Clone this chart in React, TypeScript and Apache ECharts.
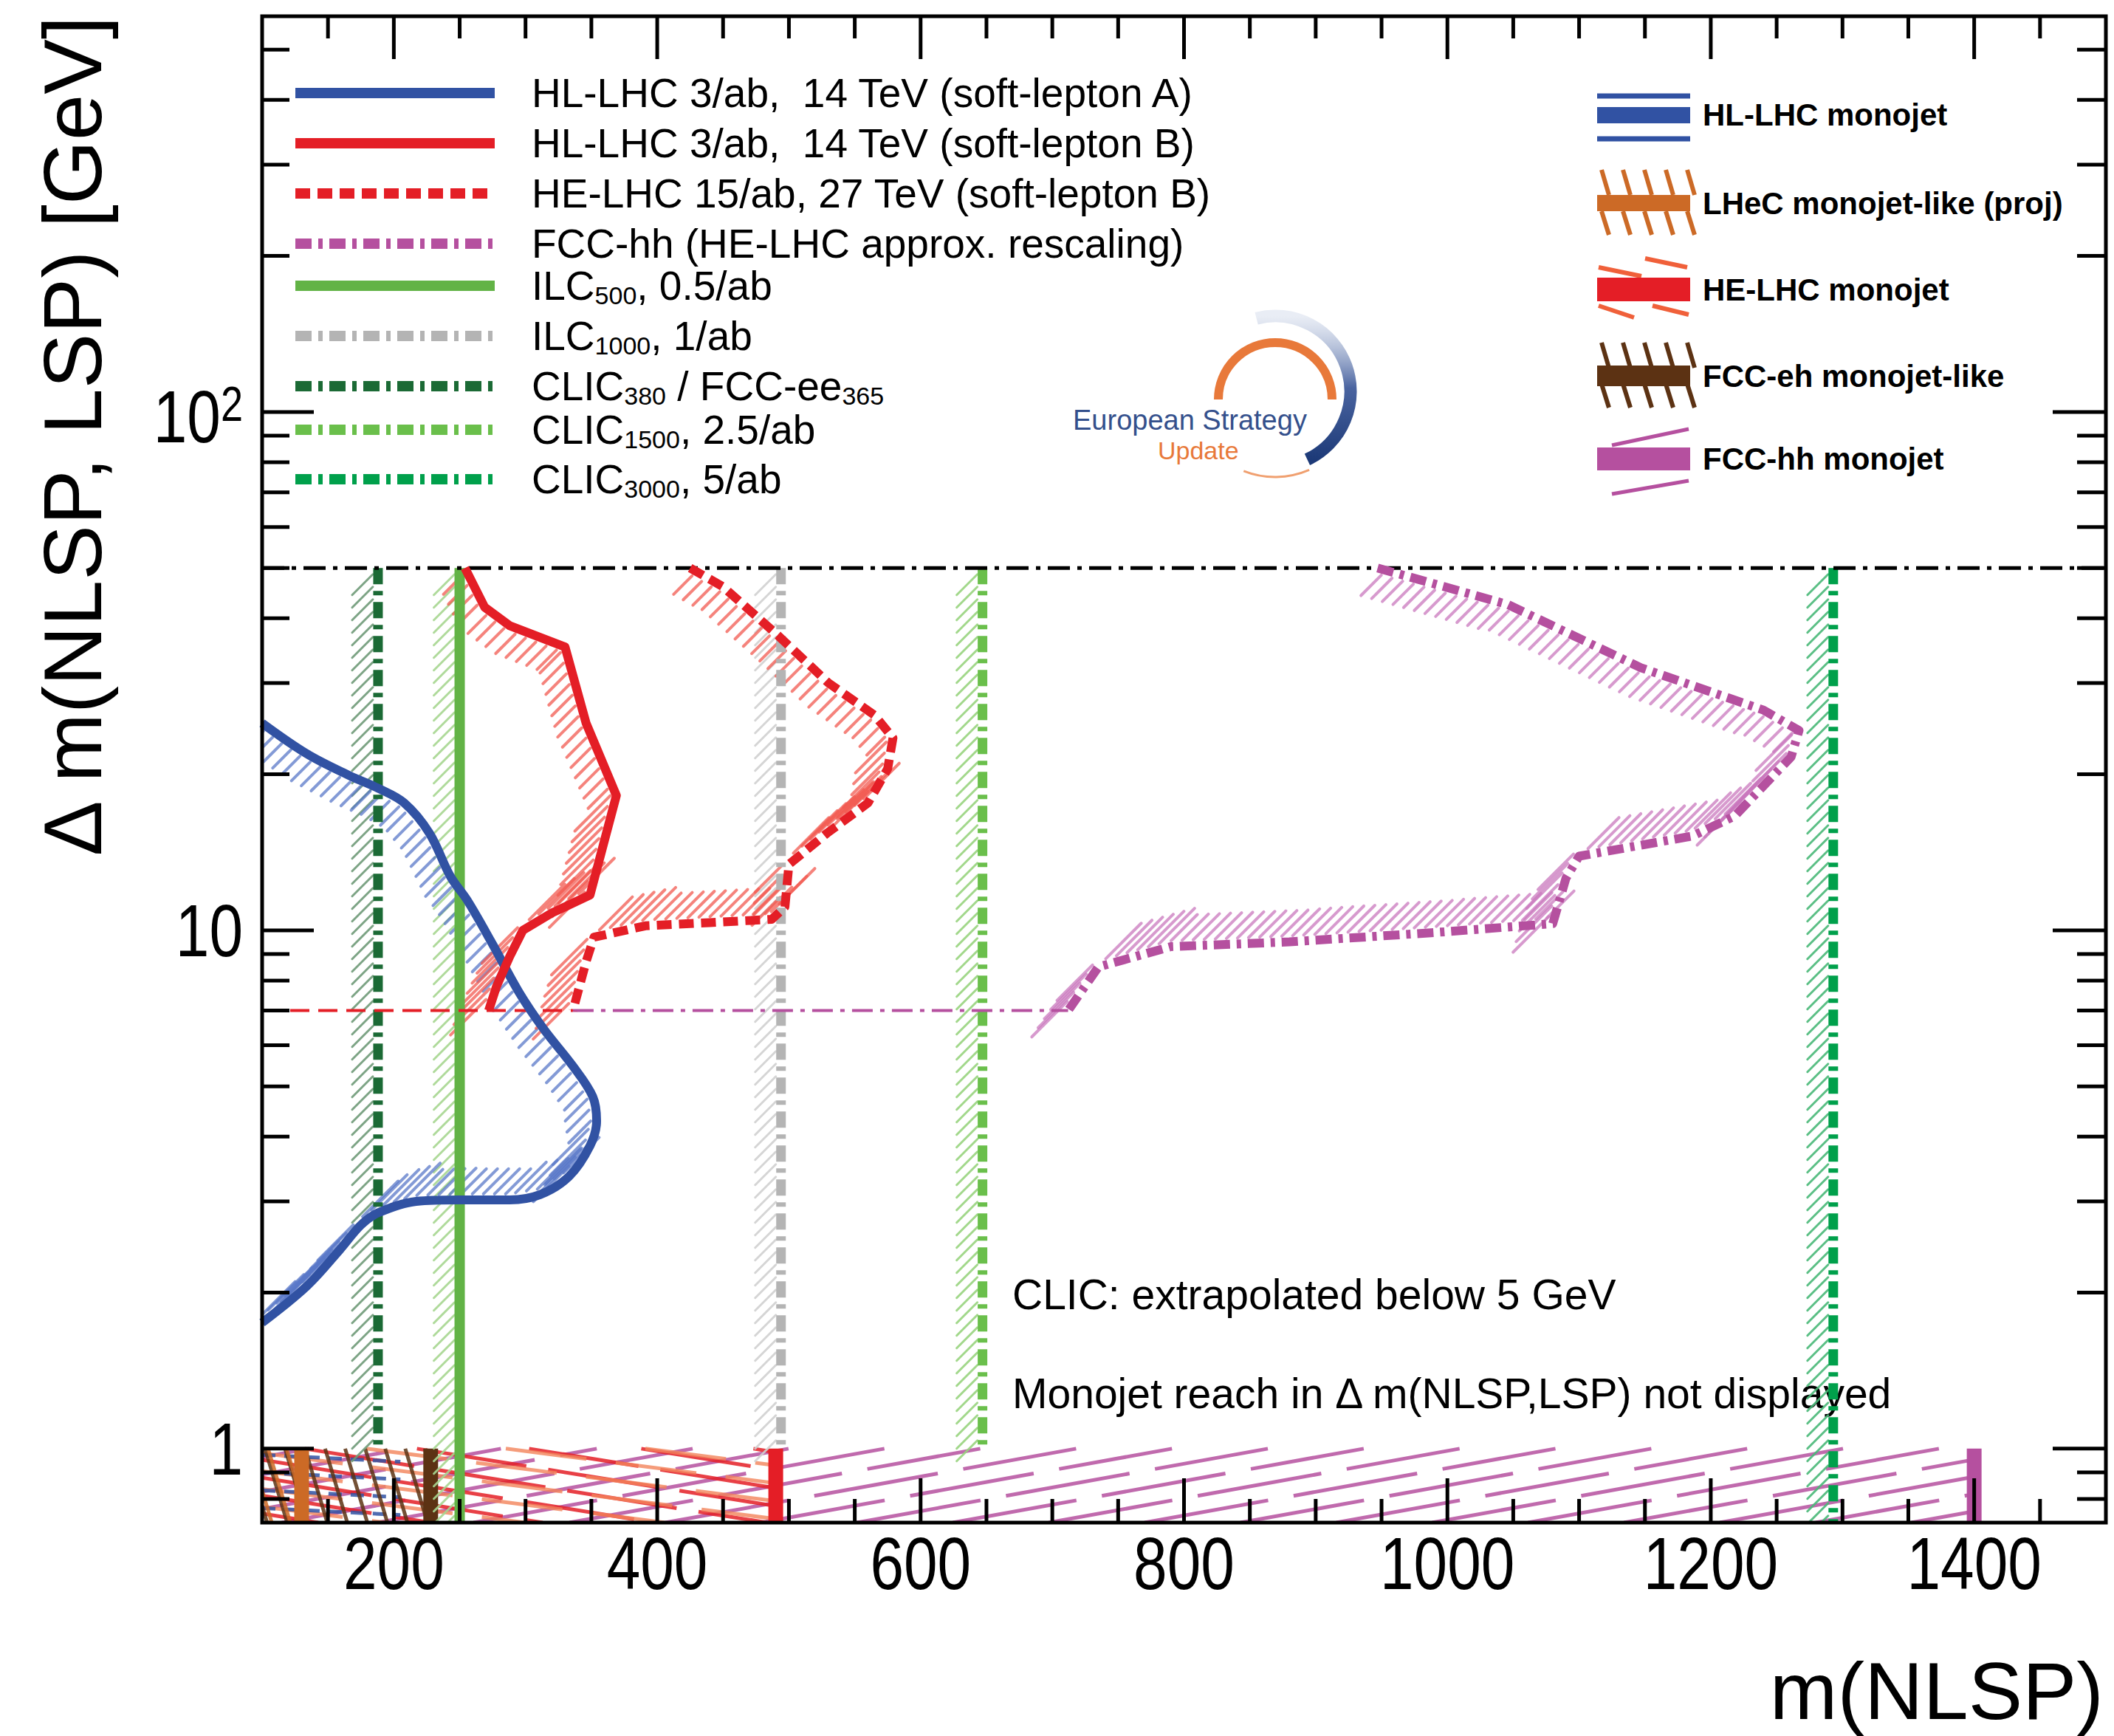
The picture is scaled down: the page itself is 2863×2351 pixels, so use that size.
import React, { useEffect, useRef } from 'react';
import * as echarts from 'echarts';

// ---------------- data ----------------
const X_MIN = 100;
const X_MAX = 1500;
const Y_MIN = 0.72;
const Y_MAX = 580;

const xTickValues = [200, 400, 600, 800, 1000, 1200, 1400];
const xMinorTicks = [150, 250, 300, 350, 450, 500, 550, 650, 700, 750, 850, 900, 950, 1050, 1100, 1150, 1250, 1300, 1350, 1450];
const yTickValues = [1, 10, 100];
const yTickLabels = ['1', '10', '{n|10}{s|2}'];
const yMinorTicks = [0.8, 0.9, 2, 3, 4, 5, 6, 7, 8, 9, 20, 30, 40, 50, 60, 70, 80, 90, 200, 300, 400, 500];

// HL-LHC 3/ab, 14 TeV (soft-lepton A)
const hlA_m = [100, 134, 166, 188, 208, 227, 243, 256, 275, 295, 314, 336, 351, 354, 349, 333, 311, 288, 249, 217, 188, 175, 159, 134, 100];
const hlA_dm = [25.1, 21.9, 19.9, 18.8, 17.6, 15.4, 12.7, 11.4, 9.4, 7.6, 6.44, 5.47, 4.78, 4.29, 3.84, 3.35, 3.09, 3.02, 3.02, 3.0, 2.85, 2.7, 2.42, 2.06, 1.75];
// HL-LHC 3/ab, 14 TeV (soft-lepton B)
const hlB_m = [254, 269, 288, 330, 346, 369, 359, 349, 320, 298, 288, 278, 272];
const hlB_dm = [50, 42, 38.7, 35.2, 25.1, 18.2, 14.6, 11.7, 10.8, 10.0, 8.9, 7.8, 7.0];
// HE-LHC 15/ab, 27 TeV (soft-lepton B)
const heB_m = [425, 450, 492, 530, 565, 579, 575, 560, 529, 500, 497, 487, 440, 391, 352, 346, 336];
const heB_dm = [50, 46, 37, 30, 26, 23.5, 20.5, 17.6, 15.4, 13.4, 11.1, 10.5, 10.35, 10.2, 9.7, 8.7, 7.0];
// FCC-hh (HE-LHC approx. rescaling)
const fcc_m = [947, 1046, 1147, 1240, 1267, 1261, 1218, 1186, 1100, 1090, 1080, 990, 880, 790, 735, 712];
const fcc_dm = [50, 42.5, 32.1, 26.6, 24.3, 21.6, 16.6, 15.2, 13.9, 12.6, 10.3, 9.9, 9.5, 9.3, 8.5, 7.0];

// vertical reach lines: CLIC380, ILC500, ILC1000, CLIC1500, CLIC3000
const vLineMass = [188, 250, 494, 647, 1293];
const vLineLow = [1, 0.72, 1, 1, 0.72];
const vLineTop = 50;

// horizontal lines
const boundaryDm = 50;
const softLeptonFloorDm = 7;
const floorRedM = [100, 336];
const floorMagentaM = [336, 712];

// monojet reach (bottom band, drawn between Y_MIN and 1)
const monojetNames = ['HL-LHC monojet', 'LHeC monojet-like (proj)', 'HE-LHC monojet', 'FCC-eh monojet-like', 'FCC-hh monojet'];
const monojetReach = [205, 130, 490, 228, 1400];
const monojetBandTop = 1;

const legendLeftLabels = [
  'HL-LHC 3/ab,  14 TeV (soft-lepton A)',
  'HL-LHC 3/ab,  14 TeV (soft-lepton B)',
  'HE-LHC 15/ab, 27 TeV (soft-lepton B)',
  'FCC-hh (HE-LHC approx. rescaling)',
  'ILC{s|500}, 0.5/ab',
  'ILC{s|1000}, 1/ab',
  'CLIC{s|380} / FCC-ee{s|365}',
  'CLIC{s|1500}, 2.5/ab',
  'CLIC{s|3000}, 5/ab',
];

// ---------------- styles ----------------
const FONT = "'Liberation Sans', Arial, Helvetica, sans-serif";
const C = {
  blue: '#3152a3',
  red: '#e41e26',
  magenta: '#b5509f',
  ilc: '#62b346',
  gray: '#b4b4b4',
  dkgreen: '#1b6a35',
  ltgreen: '#6abf4b',
  green: '#00a04b',
  orange: '#cc6a26',
  brown: '#5c3213',
};
const DASH = [20, 10];
const DASHDOT = [22, 9, 6, 9];

const vLineColors = [C.dkgreen, C.ilc, C.gray, C.ltgreen, C.green];
const vLineHatch = ['#6f9a78', '#a6d690', '#d0d0d0', '#98d47e', '#49b878'];
const vLineDash: any[] = [DASHDOT, null, DASHDOT, DASHDOT, DASHDOT];

const legendLeftColors = [C.blue, C.red, C.red, C.magenta, C.ilc, C.gray, C.dkgreen, C.ltgreen, C.green];
const legendLeftDash: any[] = [null, null, DASH, DASHDOT, null, DASHDOT, DASHDOT, DASHDOT, DASHDOT];
const legendLeftY = [126, 194, 262, 330, 387, 455, 523, 582, 649];
const legendRightY = [155, 275, 392, 509, 621];

function zip(a: number[], b: number[]) {
  return a.map((v, i) => [v, b[i]]);
}

function clipSeg(x1: number, y1: number, x2: number, y2: number, rx0: number, ry0: number, rx1: number, ry1: number) {
  let t0 = 0, t1 = 1;
  const dx = x2 - x1, dy = y2 - y1;
  const p = [-dx, dx, -dy, dy];
  const q = [x1 - rx0, rx1 - x1, y1 - ry0, ry1 - y1];
  for (let i = 0; i < 4; i++) {
    if (p[i] === 0) {
      if (q[i] < 0) return null;
    } else {
      const r = q[i] / p[i];
      if (p[i] < 0) {
        if (r > t1) return null;
        if (r > t0) t0 = r;
      } else {
        if (r < t0) return null;
        if (r < t1) t1 = r;
      }
    }
  }
  return [x1 + t0 * dx, y1 + t0 * dy, x1 + t1 * dx, y1 + t1 * dy];
}

function rectHatch(rx0: number, ry0: number, rx1: number, ry1: number, dirx: number, diry: number, spacing: number, phase: number, style: any) {
  const l = Math.hypot(dirx, diry);
  const ux = dirx / l, uy = diry / l;
  const nx = -uy, ny = ux;
  const corners = [[rx0, ry0], [rx1, ry0], [rx0, ry1], [rx1, ry1]];
  const proj = corners.map((c) => c[0] * nx + c[1] * ny);
  const pmin = Math.min(...proj), pmax = Math.max(...proj);
  const cx = (rx0 + rx1) / 2, cy = (ry0 + ry1) / 2;
  const cproj = cx * nx + cy * ny;
  const big = Math.hypot(rx1 - rx0, ry1 - ry0) + 10;
  const els: any[] = [];
  for (let p = Math.ceil((pmin - phase) / spacing) * spacing + phase; p <= pmax; p += spacing) {
    const px = cx + nx * (p - cproj), py = cy + ny * (p - cproj);
    const seg = clipSeg(px - ux * big, py - uy * big, px + ux * big, py + uy * big, rx0, ry0, rx1, ry1);
    if (seg) els.push({ type: 'line', shape: { x1: seg[0], y1: seg[1], x2: seg[2], y2: seg[3] }, style });
  }
  return els;
}

function hatchAlong(api: any, xs: number[], ys: number[], o: any) {
  const pts = xs.map((x, i) => api.coord([x, ys[i]]));
  const els: any[] = [];
  let carry = o.spacing / 2;
  for (let i = 0; i < pts.length - 1; i++) {
    const [x0, y0] = pts[i];
    const [x1, y1] = pts[i + 1];
    const dx = x1 - x0, dy = y1 - y0;
    const len = Math.hypot(dx, dy);
    if (len < 1e-6) continue;
    const tx = dx / len, ty = dy / len;
    const nx = -ty, ny = tx;
    let hx = Math.SQRT1_2, hy = -Math.SQRT1_2;
    let dot = hx * nx + hy * ny;
    if (dot < 0) { hx = -hx; hy = -hy; dot = -dot; }
    const L = Math.min(o.width / Math.max(dot, 0.4), o.width * 2);
    let s = carry;
    while (s < len) {
      const px = x0 + tx * s + nx * o.gap, py = y0 + ty * s + ny * o.gap;
      els.push({
        type: 'line',
        shape: { x1: px, y1: py, x2: px + hx * L, y2: py + hy * L },
        style: { stroke: o.color, lineWidth: o.lw, opacity: o.opacity, lineCap: 'round' },
      });
      s += o.spacing;
    }
    carry = s - len;
  }
  return els;
}

function hatchSeries(xs: number[], ys: number[], o: any, z = 3) {
  return {
    type: 'custom',
    coordinateSystem: 'cartesian2d',
    clip: true,
    silent: true,
    z,
    data: [[xs[0], ys[0]]],
    renderItem: (_p: any, api: any) => ({ type: 'group', children: hatchAlong(api, xs, ys, o) }),
  };
}

function lineSeries(name: string, data: number[][], color: string, width: number, dash: any, z = 5, smooth: any = false) {
  return {
    type: 'line',
    name,
    data,
    symbol: 'none',
    showSymbol: false,
    smooth,
    clip: true,
    silent: true,
    z,
    lineStyle: { color, width, type: dash || 'solid', cap: 'butt', join: 'round' },
  };
}

// bottom band hatch styles (index matches monojetNames)
const bandStyle: any[] = [
  { color: C.blue, dir: [1, 0.05], spacing: 24, phase: 6, dash: [18, 12], edge: 0 },
  { color: C.orange, dir: [0.3, 1], spacing: 24, phase: 0, dash: null, edge: 20 },
  { color: C.red, dir: [1, 0.16], spacing: 24, phase: 0, dash: [150, 30], edge: 20, color2: '#f3835a' },
  { color: C.brown, dir: [0.3, 1], spacing: 26, phase: 12, dash: null, edge: 20 },
  { color: C.magenta, dir: [1, -0.18], spacing: 23, phase: 4, dash: [170, 35], edge: 20 },
];
const bandOrder = [4, 2, 0, 3, 1];

function bandSeries(idx: number) {
  const st = bandStyle[idx];
  return {
    type: 'custom',
    coordinateSystem: 'cartesian2d',
    clip: true,
    silent: true,
    z: 2,
    data: [[monojetReach[idx], monojetBandTop]],
    renderItem: (_p: any, api: any) => {
      const [x0, yTop] = api.coord([X_MIN, monojetBandTop]);
      const [x1, yBot] = api.coord([monojetReach[idx], Y_MIN]);
      const children: any[] = rectHatch(x0, yTop, x1, yBot, st.dir[0], st.dir[1], st.spacing, st.phase,
        { stroke: st.color, lineWidth: 5, opacity: 0.85, lineDash: st.dash || null });
      if (st.color2) {
        children.push(...rectHatch(x0, yTop, x1, yBot, st.dir[0], st.dir[1] * 0.8, st.spacing, st.phase + 11,
          { stroke: st.color2, lineWidth: 5, opacity: 0.8, lineDash: [110, 40] }));
      }
      if (st.edge > 0) {
        children.push({ type: 'rect', shape: { x: x1 - st.edge / 2, y: yTop, width: st.edge, height: yBot - yTop }, style: { fill: st.color } });
      }
      return { type: 'group', children };
    },
  };
}

const TICK_FONT = 100;
const TICK_SCALE_X = 0.82;

function frameSeries() {
  return {
    type: 'custom',
    coordinateSystem: 'cartesian2d',
    clip: false,
    silent: true,
    z: 20,
    data: [[X_MIN, 1]],
    renderItem: (_p: any, api: any) => {
      const [l, b] = api.coord([X_MIN, Y_MIN]);
      const [r, t] = api.coord([X_MAX, Y_MAX]);
      const st = { stroke: '#000', lineWidth: 5 };
      const ch: any[] = [];
      const ln = (a: number, bb: number, c: number, d: number) => ({ type: 'line', shape: { x1: a, y1: bb, x2: c, y2: d }, style: st });
      xTickValues.forEach((v) => {
        const x = api.coord([v, 1])[0];
        ch.push(ln(x, b, x, b - 60), ln(x, t, x, t + 58));
        ch.push({
          type: 'text', x, y: b + 55, scaleX: TICK_SCALE_X,
          style: { text: String(v), fontSize: TICK_FONT, fontFamily: FONT, fill: '#000', align: 'center', verticalAlign: 'middle' },
        });
      });
      xMinorTicks.forEach((v) => { const x = api.coord([v, 1])[0]; ch.push(ln(x, b, x, b - 32), ln(x, t, x, t + 30)); });
      yTickValues.forEach((v, i) => {
        const y = api.coord([X_MIN, v])[1];
        ch.push(ln(l, y, l + 70, y), ln(r, y, r - 72, y));
        ch.push({
          type: 'text', x: l - 26, y: i === 2 ? y + 6 : y, scaleX: TICK_SCALE_X,
          style: {
            text: yTickLabels[i], fontSize: TICK_FONT, fontFamily: FONT, fill: '#000', align: 'right', verticalAlign: 'middle',
            lineHeight: 100,
            rich: {
              n: { fontSize: TICK_FONT, fontFamily: FONT, fill: '#000', lineHeight: 100 },
              s: { fontSize: 66, fontFamily: FONT, fill: '#000', lineHeight: 40, verticalAlign: 'top' },
            },
          },
        });
      });
      yMinorTicks.forEach((v) => { const y = api.coord([X_MIN, v])[1]; ch.push(ln(l, y, l + 37, y), ln(r, y, r - 39, y)); });
      ch.push({ type: 'rect', shape: { x: l, y: t, width: r - l, height: b - t }, style: { fill: 'none', stroke: '#000', lineWidth: 5 } });
      return { type: 'group', children: ch };
    },
  };
}

function txt(x: number, y: number, text: string, size: number, extra: any = {}) {
  return {
    type: 'text',
    x,
    y,
    silent: true,
    style: {
      text,
      fontSize: size,
      fontFamily: FONT,
      fill: '#000',
      align: 'left',
      textAlign: 'left',
      verticalAlign: 'middle',
      textVerticalAlign: 'middle',
      ...extra,
    },
  };
}

function gline(x1: number, y1: number, x2: number, y2: number, stroke: string, lw: number, dash: any = null) {
  return { type: 'line', silent: true, shape: { x1, y1, x2, y2 }, style: { stroke, lineWidth: lw, lineDash: dash } };
}
function grect(x: number, y: number, w: number, h: number, fill: string) {
  return { type: 'rect', silent: true, shape: { x, y, width: w, height: h }, style: { fill } };
}

function buildGraphics() {
  const g: any[] = [];
  // left legend
  legendLeftLabels.forEach((lab, i) => {
    const y = legendLeftY[i];
    g.push(gline(400, y, 670, y, legendLeftColors[i], 14, legendLeftDash[i]));
    g.push(txt(720, y, lab, 55, {
      lineHeight: 60,
      rich: { s: { fontSize: 34, fontFamily: FONT, lineHeight: 22, verticalAlign: 'bottom', fill: '#000' } },
    }));
  });
  // right legend samples
  const sx0 = 2163, sx1 = 2289, sw = sx1 - sx0;
  let cy = legendRightY[0];
  g.push(gline(sx0, cy - 25, sx1, cy - 25, C.blue, 7), grect(sx0, cy - 10, sw, 22, C.blue), gline(sx0, cy + 33, sx1, cy + 33, C.blue, 7));
  const spikes = (y: number, col: string) => {
    for (let k = 0; k < 5; k++) {
      const bx = sx0 + 6 + k * 29;
      g.push(gline(bx, y - 45, bx + 10, y - 11, col, 6));
      g.push(gline(bx, y + 11, bx + 10, y + 43, col, 6));
    }
  };
  cy = legendRightY[1];
  spikes(cy, C.orange);
  g.push(grect(sx0, cy - 11, sw, 22, C.orange));
  cy = legendRightY[2];
  g.push(gline(sx0 + 65, cy - 42, sx1 - 4, cy - 30, '#f0603a', 6), gline(sx0 + 2, cy - 30, sx0 + 60, cy - 18, '#f0603a', 6));
  g.push(gline(sx0 + 2, cy + 22, sx0 + 50, cy + 38, '#f0603a', 6), gline(sx0 + 75, cy + 22, sx1 - 2, cy + 34, '#f0603a', 6));
  g.push(grect(sx0, cy - 16, sw, 32, C.red));
  cy = legendRightY[3];
  spikes(cy, C.brown);
  g.push(grect(sx0, cy - 14, sw, 28, C.brown));
  cy = legendRightY[4];
  g.push(gline(sx0 + 20, cy - 18, sx1 - 2, cy - 40, C.magenta, 5), gline(sx0 + 20, cy + 48, sx1 - 2, cy + 30, C.magenta, 5));
  g.push(grect(sx0, cy - 15, sw, 31, C.magenta));
  monojetNames.forEach((n, i) => g.push(txt(2306, legendRightY[i], n, 42, { fontWeight: 'bold' })));

  // logo
  g.push({
    type: 'arc', silent: true,
    shape: { cx: 1727, cy: 530, r: 102, startAngle: -Math.PI * 0.58, endAngle: Math.PI * 0.36, clockwise: true },
    style: {
      fill: 'none', lineWidth: 17, lineCap: 'butt',
      stroke: new echarts.graphic.LinearGradient(0, 0, 0, 1, [
        { offset: 0, color: 'rgba(200,210,230,0.4)' },
        { offset: 0.5, color: '#4a64a0' },
        { offset: 1, color: '#1d3a78' },
      ]),
    },
  });
  g.push({
    type: 'arc', silent: true,
    shape: { cx: 1727, cy: 541, r: 77, startAngle: Math.PI, endAngle: Math.PI * 2, clockwise: true },
    style: { fill: 'none', stroke: '#e8793a', lineWidth: 12 },
  });
  g.push({
    type: 'arc', silent: true,
    shape: { cx: 1727, cy: 530, r: 116, startAngle: Math.PI * 0.37, endAngle: Math.PI * 0.62, clockwise: true },
    style: { fill: 'none', stroke: '#f0a070', lineWidth: 3 },
  });
  g.push(txt(1453, 569, 'European Strategy', 38, { fill: '#34508c' }));
  g.push(txt(1568, 610, 'Update', 34, { fill: '#e8793a' }));

  // annotations
  g.push(txt(1371, 1753, 'CLIC: extrapolated below 5 GeV', 57));
  g.push(txt(1371, 1887, 'Monojet reach in \u0394 m(NLSP,LSP) not displayed', 57));

  // axis titles
  g.push(txt(2849, 2289, 'm(NLSP)', 110, { align: 'right', textAlign: 'right' }));
  g.push({
    type: 'text', silent: true, x: 98, y: 22, rotation: Math.PI / 2,
    style: {
      text: '\u0394 m(NLSP, LSP) [GeV]', fontSize: 112, fontFamily: FONT, fill: '#000',
      align: 'right', textAlign: 'right', verticalAlign: 'middle', textVerticalAlign: 'middle',
    },
  });
  return g;
}

function buildOption() {
  const series: any[] = [];
  bandOrder.forEach((i) => series.push(bandSeries(i)));
  // vertical reach lines and their hatches
  vLineMass.forEach((m, i) => {
    series.push(hatchSeries([m, m], [vLineTop, vLineLow[i]], { color: vLineHatch[i], width: 28, spacing: 17, lw: 3, gap: 7, opacity: 0.9 }, 3));
    series.push(lineSeries('v' + i, [[m, vLineTop], [m, vLineLow[i]]], vLineColors[i], i === 1 ? 14 : 13, vLineDash[i], 4));
  });
  // horizontal lines
  series.push(lineSeries('boundary', [[X_MIN, boundaryDm], [X_MAX, boundaryDm]], '#000', 5, [30, 10, 6, 10], 6));
  series.push(lineSeries('floorRed', [[floorRedM[0], softLeptonFloorDm], [floorRedM[1], softLeptonFloorDm]], C.red, 4, [26, 12], 6));
  series.push(lineSeries('floorMag', [[floorMagentaM[0], softLeptonFloorDm], [floorMagentaM[1], softLeptonFloorDm]], C.magenta, 4, [28, 10, 6, 10], 6));
  // curve hatches
  const ho = (color: string) => ({ color, width: 34, spacing: 15, lw: 4, gap: 8, opacity: 0.75 });
  series.push(hatchSeries(hlA_m, hlA_dm, ho('#5a78c8')));
  series.push(hatchSeries(hlB_m, hlB_dm, ho('#f25a50')));
  series.push(hatchSeries(heB_m, heB_dm, ho('#f25a50')));
  series.push(hatchSeries(fcc_m, fcc_dm, ho('#c978bd')));
  // curves
  series.push(lineSeries(legendLeftLabels[0], zip(hlA_m, hlA_dm), C.blue, 12, null, 8, 0.35));
  series.push(lineSeries(legendLeftLabels[1], zip(hlB_m, hlB_dm), C.red, 12, null, 8));
  series.push(lineSeries(legendLeftLabels[2], zip(heB_m, heB_dm), C.red, 12, DASH, 8));
  series.push(lineSeries(legendLeftLabels[3], zip(fcc_m, fcc_dm), C.magenta, 12, DASHDOT, 8));
  series.push(frameSeries());

  return {
    animation: false,
    backgroundColor: '#fff',
    grid: { left: 355, right: 11, top: 22, bottom: 289, containLabel: false, show: false },
    xAxis: {
      type: 'value', min: X_MIN, max: X_MAX,
      axisLine: { show: false }, axisTick: { show: false }, splitLine: { show: false },
      axisLabel: { show: false },
    },
    yAxis: {
      type: 'log', logBase: 10, min: Y_MIN, max: Y_MAX,
      axisLine: { show: false }, axisTick: { show: false }, splitLine: { show: false }, minorTick: { show: false },
      axisLabel: { show: false },
    },
    series,
    graphic: { elements: buildGraphics() },
  };
}

export default function App() {
  const ref = useRef<HTMLDivElement>(null);
  useEffect(() => {
    if (!ref.current) return;
    const chart = echarts.init(ref.current, null, { renderer: 'svg', width: 2863, height: 2351 });
    chart.setOption(buildOption() as any);
    return () => chart.dispose();
  }, []);
  return (
    <div
      ref={ref}
      style={{ position: 'absolute', left: 0, top: 0, width: 2863, height: 2351, background: '#fff' }}
    />
  );
}
